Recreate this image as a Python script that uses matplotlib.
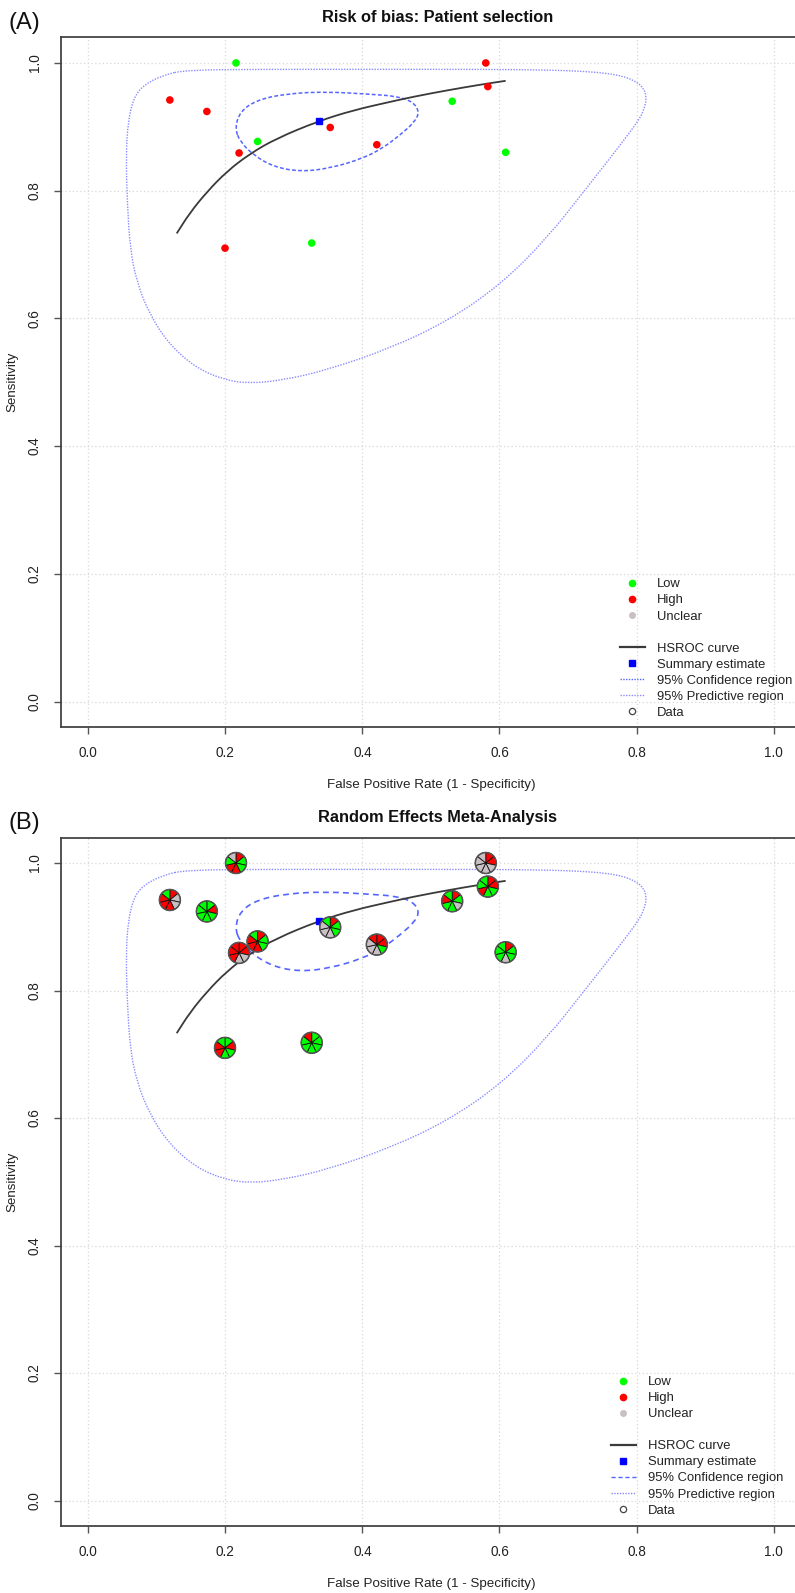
import numpy as np
import matplotlib
matplotlib.use("Agg")
import matplotlib.pyplot as plt
from matplotlib import font_manager as fm
from matplotlib.lines import Line2D
from matplotlib.patches import Wedge, Circle, PathPatch
from matplotlib.path import Path
from matplotlib.transforms import ScaledTranslation

# ---------------- data ----------------
study_fpr = [0.2155, 0.580, 0.583, 0.531, 0.119, 0.173, 0.353, 0.247, 0.421, 0.220, 0.609, 0.1995, 0.326]
study_sens = [1.000, 1.000, 0.963, 0.940, 0.942, 0.924, 0.899, 0.877, 0.872, 0.859, 0.860, 0.710, 0.718]
# risk of bias (patient selection) for panel A
study_risk = ['Low', 'High', 'High', 'Low', 'High', 'High', 'High', 'Low', 'High', 'High', 'Low', 'High', 'Low']
# QUADAS-2 pies for panel B (7 items, clockwise from 12 o'clock): G=low, R=high, U=unclear
study_pies = ['RGGRRGU', 'RRUUUUU', 'RRGGRGG', 'RGUGGRG', 'RUURRRG', 'GRGGGGG', 'RGGUUUG',
              'RGGRRRG', 'RRGUUUR', 'RRUURRR', 'RGGUGGG', 'GRGGRRG', 'GGGGGGR']

summary_fpr = [0.336]
summary_sens = [0.909]

hsroc_fpr = [0.129, 0.148, 0.173, 0.202, 0.236, 0.275, 0.336, 0.387, 0.440, 0.474, 0.523, 0.572, 0.609]
hsroc_sens = [0.733, 0.765, 0.798, 0.830, 0.858, 0.882, 0.909, 0.926, 0.939, 0.947, 0.957, 0.966, 0.972]

conf_fpr = [0.214, 0.2213, 0.2457, 0.2895, 0.348, 0.411, 0.450, 0.474, 0.483, 0.4767, 0.4548,
            0.430, 0.401, 0.3527, 0.309, 0.270, 0.2407, 0.2213]
conf_sens = [0.898, 0.9236, 0.942, 0.952, 0.955, 0.951, 0.948, 0.939, 0.9236, 0.908, 0.887,
             0.867, 0.8506, 0.835, 0.8297, 0.8375, 0.856, 0.877]

pred_fpr = [0.143, 0.25, 0.40, 0.584, 0.669, 0.720, 0.756, 0.781, 0.797, 0.810, 0.815, 0.811, 0.805,
            0.776, 0.727, 0.669, 0.6007, 0.523, 0.440, 0.348, 0.2845, 0.236, 0.199, 0.158, 0.119,
            0.090, 0.0706, 0.061, 0.057, 0.055, 0.058, 0.066, 0.080, 0.109]
pred_sens = [0.989, 0.990, 0.990, 0.990, 0.989, 0.987, 0.984, 0.979, 0.972, 0.962, 0.945, 0.928, 0.913,
             0.871, 0.804, 0.725, 0.652, 0.595, 0.553, 0.519, 0.5035, 0.498, 0.5035, 0.522, 0.558,
             0.605, 0.657, 0.710, 0.778, 0.856, 0.908, 0.945, 0.965, 0.981]

ticks = [0.0, 0.2, 0.4, 0.6, 0.8, 1.0]
tick_labels = ['0.0', '0.2', '0.4', '0.6', '0.8', '1.0']
legend_labels = ['Low', 'High', 'Unclear', '', 'HSROC curve', 'Summary estimate',
                 '95% Confidence region', '95% Predictive region', 'Data']

# ---------------- fonts ----------------
_names = {f.name for f in fm.fontManager.ttflist}
if 'Liberation Sans Narrow' in _names:
    FAMILY = ['Liberation Sans Narrow', 'DejaVu Sans']
    FS = 1.18
else:
    FAMILY = ['Liberation Sans', 'DejaVu Sans']
    FS = 1.0
plt.rcParams['font.family'] = FAMILY

# ---------------- styles ----------------
GREEN = '#00ff00'
RED = '#ff0000'
GREY = '#c8c0c4'
risk_colors = {'Low': GREEN, 'High': RED, 'Unclear': GREY}
pie_colors = {'G': GREEN, 'R': RED, 'U': GREY}
CI_COLOR = '#5566ff'
PI_COLOR = '#8a8cff'
CURVE_COLOR = '#3a3a3a'

W, H = 795, 1593
fig = plt.figure(figsize=(W / 100, H / 100), dpi=100)

ax_left = 60.9 / W
ax_w = 740.1 / W
axA = fig.add_axes([ax_left, (H - 727.1) / H, ax_w, 689.7 / H])
axB = fig.add_axes([ax_left, (H - 1526.0) / H, ax_w, 688.5 / H])


def smooth_path(xs, ys, closed=False):
    """Quadratic-Bezier path using the read points as control points."""
    pts = np.column_stack([xs, ys]).astype(float)
    n = len(pts)
    if closed:
        mids = (pts + np.roll(pts, -1, axis=0)) / 2
        verts = [mids[-1]]
        codes = [Path.MOVETO]
        for i in range(n):
            verts += [pts[i], mids[i]]
            codes += [Path.CURVE3, Path.CURVE3]
    else:
        verts = [pts[0], (pts[0] + pts[1]) / 2]
        codes = [Path.MOVETO, Path.LINETO]
        for i in range(1, n - 1):
            verts += [pts[i], (pts[i] + pts[i + 1]) / 2]
            codes += [Path.CURVE3, Path.CURVE3]
        verts.append(pts[-1])
        codes.append(Path.LINETO)
    return Path(np.array(verts), codes)


def style_axes(ax, title):
    ax.set_xlim(-0.04, 1.04)
    ax.set_ylim(-0.04, 1.04)
    ax.set_xticks(ticks)
    ax.set_xticklabels(tick_labels)
    ax.set_yticks(ticks)
    ax.set_yticklabels(tick_labels)
    ax.grid(True, color='#d8d8d8', linestyle=(0, (1, 2)), linewidth=0.9)
    ax.set_axisbelow(True)
    for s in ax.spines.values():
        s.set_color('#444444')
        s.set_linewidth(1.3)
    ax.tick_params(direction='out', length=5.2, width=1.0, color='#555555',
                   labelsize=9.8 * FS, pad=8.5, labelcolor='#222222')
    ax.tick_params(axis='y', labelrotation=90)
    for lab in ax.get_yticklabels():
        lab.set_va('center')
    ax.set_title(title, fontsize=11.8 * FS, fontweight='bold', pad=11, color='#111111',
                 x=(438.0 - 60.9) / 740.1)
    ax.set_xlabel('False Positive Rate (1 - Specificity)', fontsize=9.6 * FS, color='#222222')
    ax.set_ylabel('Sensitivity', fontsize=9.6 * FS, color='#222222')
    ax.xaxis.set_label_coords((431.0 - 60.9) / 740.1, -58 / 689.7)
    ax.xaxis.label.set_va('center')
    ax.yaxis.set_label_coords(-48 / 740.1, 0.5)
    ax.yaxis.label.set_va('center')


def draw_common(ax, ci_ls, ci_lw):
    ax.add_patch(PathPatch(smooth_path(pred_fpr, pred_sens, closed=True), fill=False,
                           edgecolor=PI_COLOR, linestyle=(0, (1, 1)), linewidth=1.0, zorder=2))
    ax.add_patch(PathPatch(smooth_path(conf_fpr, conf_sens, closed=True), fill=False,
                           edgecolor=CI_COLOR, linestyle=ci_ls, linewidth=ci_lw, zorder=2))
    ax.add_patch(PathPatch(smooth_path(hsroc_fpr, hsroc_sens), fill=False,
                           edgecolor=CURVE_COLOR, linewidth=1.3, zorder=3))
    ax.plot(summary_fpr, summary_sens, linestyle='', marker='s', markersize=5,
            color='#0000ff', zorder=4)


def add_legend(ax, anchor, ci_ls):
    handles = [
        Line2D([], [], linestyle='', marker='o', markersize=4.5, color=GREEN),
        Line2D([], [], linestyle='', marker='o', markersize=4.5, color=RED),
        Line2D([], [], linestyle='', marker='o', markersize=4.0, color=GREY),
        Line2D([], [], linestyle='', marker=''),
        Line2D([], [], color=CURVE_COLOR, linewidth=1.6),
        Line2D([], [], linestyle='', marker='s', markersize=4.5, color='#0000ff'),
        Line2D([], [], color=CI_COLOR, linestyle=ci_ls, linewidth=1.0),
        Line2D([], [], color=PI_COLOR, linestyle=(0, (1, 1)), linewidth=1.0),
        Line2D([], [], linestyle='', marker='o', markersize=4.5, markerfacecolor='white',
               markeredgecolor='#444444', markeredgewidth=0.9),
    ]
    leg = ax.legend(handles, legend_labels, loc='upper left', bbox_to_anchor=anchor,
                    frameon=False, fontsize=9.4 * FS, handlelength=1.9, handletextpad=0.9,
                    labelspacing=0.3, borderpad=0, borderaxespad=0)
    for t in leg.get_texts():
        t.set_color('#222222')
    return leg


# ---------------- Panel A ----------------
style_axes(axA, 'Risk of bias: Patient selection')
draw_common(axA, (0, (2.5, 1.5)), 1.1)
axA.scatter(study_fpr, study_sens, s=30, c=[risk_colors[r] for r in study_risk],
            edgecolors='none', zorder=5)
add_legend(axA, ((620 - 60.9) / 740.1, (727.1 - 578.3) / 689.7), (0, (1, 1)))

# ---------------- Panel B ----------------
style_axes(axB, 'Random Effects Meta-Analysis')
draw_common(axB, (0, (3.5, 2.5)), 1.2)
n_items = 7
r_in = 0.105
for fx, fy, pie in zip(study_fpr, study_sens, study_pies):
    trans = fig.dpi_scale_trans + ScaledTranslation(fx, fy, axB.transData)
    for k, ch in enumerate(pie):
        t2 = 90 - k * 360 / n_items
        t1 = t2 - 360 / n_items
        axB.add_patch(Wedge((0, 0), r_in, t1, t2, transform=trans, facecolor=pie_colors[ch],
                            edgecolor='#111111', linewidth=0.6, zorder=5))
    axB.add_patch(Circle((0, 0), r_in, transform=trans, facecolor='none',
                         edgecolor='#555555', linewidth=1.1, zorder=6))
add_legend(axB, ((611 - 60.9) / 740.1, (1526.0 - 1376.0) / 688.5), (0, (3, 2)))

# panel labels
fig.text(8 / W, 1 - 23 / H, '(A)', fontsize=17, family=['Liberation Sans', 'DejaVu Sans'],
         va='center', ha='left', color='#111111')
fig.text(8 / W, 1 - 823 / H, '(B)', fontsize=17, family=['Liberation Sans', 'DejaVu Sans'],
         va='center', ha='left', color='#111111')

fig.savefig('out.png', dpi=100)
